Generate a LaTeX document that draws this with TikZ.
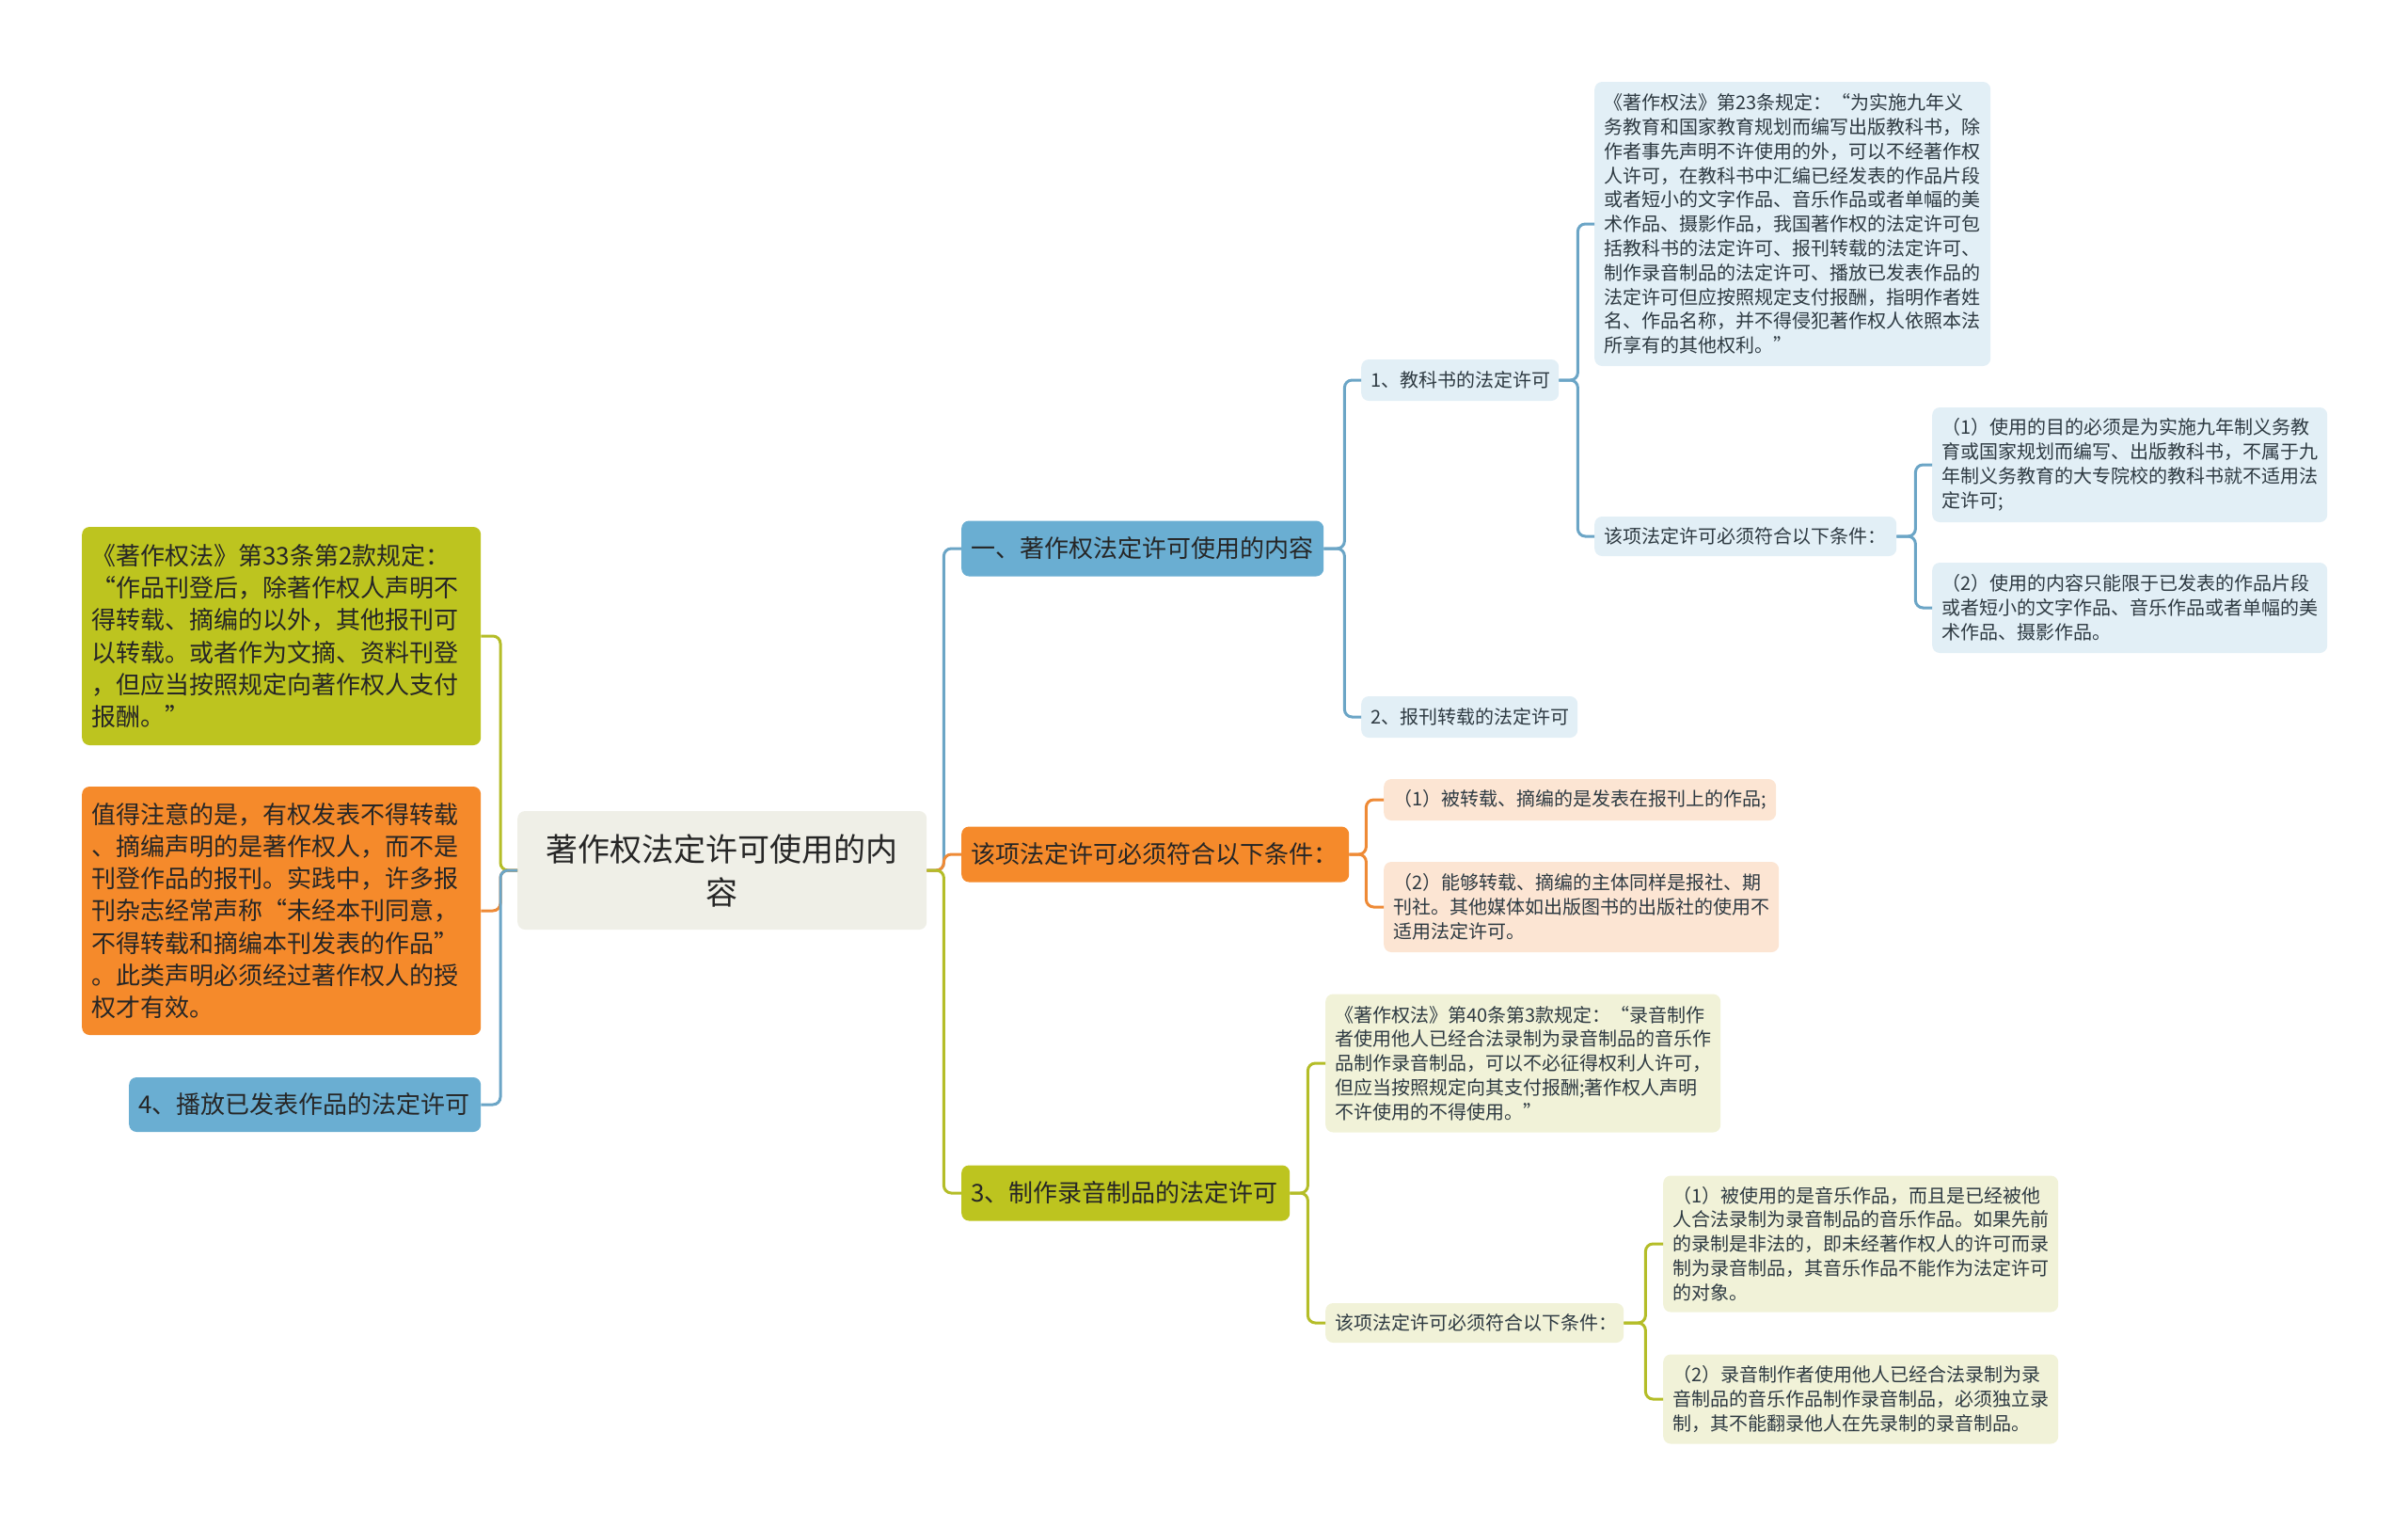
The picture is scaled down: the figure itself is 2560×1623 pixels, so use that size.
\documentclass[tikz,border=0pt]{standalone}
\usepackage{fontspec}
\setmainfont{Noto Sans CJK SC}
\usepackage{xcolor}
\usepackage{tikz}

\definecolor{rootfill}{HTML}{EFEFE7}
\definecolor{mainblue}{HTML}{6AAED2}
\definecolor{mainorange}{HTML}{F58A2B}
\definecolor{maingreen}{HTML}{BDC41F}
\definecolor{lightblue}{HTML}{E2EFF6}
\definecolor{lightorange}{HTML}{FCE5D3}
\definecolor{lightgreen}{HTML}{F1F2D8}
\definecolor{blueline}{HTML}{6BA5C6}
\definecolor{orangeline}{HTML}{EE8A36}
\definecolor{greenline}{HTML}{B4BD28}
\definecolor{textdark}{HTML}{2E3A42}

\tikzset{
  box/.style={rounded corners=8pt,inner xsep=10pt,inner ysep=3pt,anchor=west,align=left,text=textdark},
  smalltext/.style={font=\fontsize{20}{25.8}\selectfont},
  bigtext/.style={font=\fontsize{26}{34.3}\selectfont},
  rootbox/.style={box,fill=rootfill,align=center,text=black!85,font=\fontsize{34}{46}\selectfont},
  blueone/.style={box,bigtext,fill=mainblue,text=black!85},
  orangeone/.style={box,bigtext,fill=mainorange,text=black!85},
  greenone/.style={box,bigtext,fill=maingreen,text=black!85},
  bluetwo/.style={box,smalltext,fill=lightblue},
  orangetwo/.style={box,smalltext,fill=lightorange},
  greentwo/.style={box,smalltext,fill=lightgreen},
  link/.style={line width=3pt,rounded corners=8pt},
  bluelink/.style={link,draw=blueline},
  orangelink/.style={link,draw=orangeline},
  greenlink/.style={link,draw=greenline}
}

\begin{document}
\begin{tikzpicture}[x=1pt,y=-1pt]
\useasboundingbox (0,0) rectangle (2560,1623);

\node (rootnode) at (550,925) [rootbox,text width=415pt,minimum height=126pt] {著作权法定许可使用的内\\容};

\node (statuteleft) at (87,676) [greenone,text width=404pt,minimum height=232pt] {《著作权法》第33条第2款规定：\\“作品刊登后，除著作权人声明不\\得转载、摘编的以外，其他报刊可\\以转载。或者作为文摘、资料刊登\\，但应当按照规定向著作权人支付\\报酬。”};
\node (noteleft) at (87,968) [orangeone,text width=404pt,minimum height=264pt] {值得注意的是，有权发表不得转载\\、摘编声明的是著作权人，而不是\\刊登作品的报刊。实践中，许多报\\刊杂志经常声称“未经本刊同意，\\不得转载和摘编本刊发表的作品”\\。此类声明必须经过著作权人的授\\权才有效。};
\node (broadcastleft) at (137,1174) [blueone,text width=354pt,minimum height=58pt] {4、播放已发表作品的法定许可};

\node (contentsec) at (1022,583) [blueone,text width=365pt,minimum height=59pt] {一、著作权法定许可使用的内容};
\node (condsec) at (1022,908) [orangeone,text width=392pt,minimum height=59pt] {该项法定许可必须符合以下条件：};
\node (recordsec) at (1022,1268) [greenone,text width=329pt,minimum height=59pt] {3、制作录音制品的法定许可};

\node (textbook) at (1447,404) [bluetwo,text width=190pt,minimum height=44pt] {1、教科书的法定许可};
\node (reprint) at (1447,762) [bluetwo,text width=210pt,minimum height=44pt] {2、报刊转载的法定许可};

\node (textbooklaw) at (1695,238) [bluetwo,text width=401pt,minimum height=302pt] {《著作权法》第23条规定：“为实施九年义\\务教育和国家教育规划而编写出版教科书，除\\作者事先声明不许使用的外，可以不经著作权\\人许可，在教科书中汇编已经发表的作品片段\\或者短小的文字作品、音乐作品或者单幅的美\\术作品、摄影作品，我国著作权的法定许可包\\括教科书的法定许可、报刊转载的法定许可、\\制作录音制品的法定许可、播放已发表作品的\\法定许可但应按照规定支付报酬，指明作者姓\\名、作品名称，并不得侵犯著作权人依照本法\\所享有的其他权利。”};
\node (textbookcond) at (1695,570) [bluetwo,text width=301pt,minimum height=42pt] {该项法定许可必须符合以下条件：};
\node (textbookcondone) at (2054,494) [bluetwo,text width=400pt,minimum height=122pt] {（1）使用的目的必须是为实施九年制义务教\\育或国家规划而编写、出版教科书，不属于九\\年制义务教育的大专院校的教科书就不适用法\\定许可;};
\node (textbookcondtwo) at (2054,646) [bluetwo,text width=400pt,minimum height=96pt] {（2）使用的内容只能限于已发表的作品片段\\或者短小的文字作品、音乐作品或者单幅的美\\术作品、摄影作品。};

\node (reprintcondone) at (1471,850) [orangetwo,text width=397pt,minimum height=44pt] {（1）被转载、摘编的是发表在报刊上的作品;};
\node (reprintcondtwo) at (1471,964) [orangetwo,text width=400pt,minimum height=96pt] {（2）能够转载、摘编的主体同样是报社、期\\刊社。其他媒体如出版图书的出版社的使用不\\适用法定许可。};

\node (recordlaw) at (1409,1130) [greentwo,text width=400pt,minimum height=147pt] {《著作权法》第40条第3款规定：“录音制作\\者使用他人已经合法录制为录音制品的音乐作\\品制作录音制品，可以不必征得权利人许可，\\但应当按照规定向其支付报酬;著作权人声明\\不许使用的不得使用。”};
\node (recordcond) at (1409,1406) [greentwo,text width=297pt,minimum height=42pt] {该项法定许可必须符合以下条件：};
\node (recordcondone) at (1768,1322) [greentwo,text width=400pt,minimum height=145pt] {（1）被使用的是音乐作品，而且是已经被他\\人合法录制为录音制品的音乐作品。如果先前\\的录制是非法的，即未经著作权人的许可而录\\制为录音制品，其音乐作品不能作为法定许可\\的对象。};
\node (recordcondtwo) at (1768,1487) [greentwo,text width=400pt,minimum height=95pt] {（2）录音制作者使用他人已经合法录制为录\\音制品的音乐作品制作录音制品，必须独立录\\制，其不能翻录他人在先录制的录音制品。};

\draw [greenlink] (rootnode.west) -- ++(-18,0) |- (statuteleft.east);
\draw [orangelink] (rootnode.west) -- ++(-18,0) |- (noteleft.east);
\draw [bluelink] (rootnode.west) -- ++(-18,0) |- (broadcastleft.east);

\draw [bluelink] (rootnode.east) -- ++(18,0) |- (contentsec.west);
\draw [orangelink] (rootnode.east) -- ++(18,0) |- (condsec.west);
\draw [greenlink] (rootnode.east) -- ++(18,0) |- (recordsec.west);

\draw [bluelink] (contentsec.east) -- ++(22,0) |- (textbook.west);
\draw [bluelink] (contentsec.east) -- ++(22,0) |- (reprint.west);
\draw [bluelink] (textbook.east) -- ++(20,0) |- (textbooklaw.west);
\draw [bluelink] (textbook.east) -- ++(20,0) |- (textbookcond.west);
\draw [bluelink] (textbookcond.east) -- ++(20,0) |- (textbookcondone.west);
\draw [bluelink] (textbookcond.east) -- ++(20,0) |- (textbookcondtwo.west);

\draw [orangelink] (condsec.east) -- ++(18,0) |- (reprintcondone.west);
\draw [orangelink] (condsec.east) -- ++(18,0) |- (reprintcondtwo.west);

\draw [greenlink] (recordsec.east) -- ++(19,0) |- (recordlaw.west);
\draw [greenlink] (recordsec.east) -- ++(19,0) |- (recordcond.west);
\draw [greenlink] (recordcond.east) -- ++(23,0) |- (recordcondone.west);
\draw [greenlink] (recordcond.east) -- ++(23,0) |- (recordcondtwo.west);
\end{tikzpicture}
\end{document}
